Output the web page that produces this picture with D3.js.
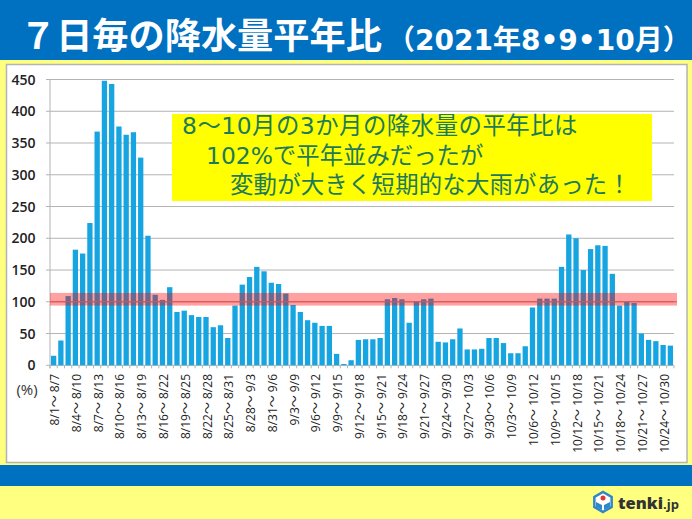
<!DOCTYPE html>
<html><head><meta charset="utf-8">
<script src="https://cdn.jsdelivr.net/npm/d3@7"></script>
<style>html,body{margin:0;padding:0;background:#ffff80}svg{display:block}</style></head>
<body><svg id="c" width="692" height="519"></svg>
<script>
const titleMain = "\uFF17日毎の降水量平年比";
const titleSub = "\uFF082021年8•9•10月\uFF09";
const startLabels = ["8/1","8/4","8/7","8/10","8/13","8/16","8/19","8/22","8/25","8/28","8/31","9/3","9/6","9/9","9/12","9/15","9/18","9/21","9/24","9/27","9/30","10/3","10/6","10/9","10/12","10/15","10/18","10/21","10/24"];
const endLabels = ["8/7","8/10","8/13","8/16","8/19","8/22","8/25","8/28","8/31","9/3","9/6","9/9","9/12","9/15","9/18","9/21","9/24","9/27","9/30","10/3","10/6","10/9","10/12","10/15","10/18","10/21","10/24","10/27","10/30"];
const values = [15,39,109,182,176,224,368,448,443,376,363,367,327,204,111,103,123,84,86,79,76,76,60,63,43,94,127,139,155,148,130,128,113,95,84,71,67,62,62,18,2,8,40,41,41,43,104,106,104,67,101,104,105,37,36,41,58,25,25,26,43,43,35,19,19,30,91,105,105,105,155,206,200,150,183,189,188,144,94,100,98,50,40,38,32,31];
const yTicks = [0,50,100,150,200,250,300,350,400,450];
const bandRange = [94,114];
const normal = 100;
const noteLines = ["8\u301C10月の3か月の降水量の平年比は","102%で平年並みだったが","変動が大きく短期的な大雨があった\uFF01"];
const noteIndent = [182,206,230];
const noteSpacing = [0.5,0,0.2];

const svg = d3.select("#c");
const sans = "'Noto Sans CJK JP','Noto Sans',sans-serif";
const wide = "'DejaVu Sans','Noto Sans CJK JP',sans-serif";
const latin = "'Open Sans','Noto Sans CJK JP',sans-serif";
const x = d3.scaleBand().domain(d3.range(values.length)).range([50,674]).paddingInner(0.27).paddingOuter(0.135);
const y = d3.scaleLinear().domain([0,450]).range([365.3,79.5]);

svg.append("rect").attr("width",692).attr("height",519).attr("fill","#ffff80");
svg.append("rect").attr("width",692).attr("height",60).attr("fill","#0070c0");
svg.append("rect").attr("y",465).attr("width",692).attr("height",21).attr("fill","#0070c0");
svg.append("rect").attr("x",6.5).attr("y",64.5).attr("width",680.5).attr("height",398).attr("fill","#fff").attr("stroke","#b4b4b4").attr("stroke-width",1.5);

svg.append("text").attr("x",20).attr("y",49).attr("fill","#fff").attr("font-family",sans).attr("font-weight",700).attr("font-size",36.2).text(titleMain);
svg.append("text").attr("x",387).attr("y",50).attr("fill","#fff").attr("font-family",wide).attr("font-weight",700).attr("font-size",28).text(titleSub);

const grid = svg.append("g");
grid.selectAll("line").data(yTicks).join("line")
 .attr("x1",46).attr("x2",674).attr("y1",d=>y(d)).attr("y2",d=>y(d))
 .attr("stroke","#b3b3b3").attr("stroke-width",1);
grid.append("line").attr("x1",50).attr("x2",50).attr("y1",y(450)).attr("y2",y(0)+3).attr("stroke","#b3b3b3");
grid.selectAll("path.t").data(d3.range(values.length+1)).join("line")
 .attr("x1",i=>50+i*x.step()).attr("x2",i=>50+i*x.step()).attr("y1",y(0)).attr("y2",y(0)+3).attr("stroke","#b3b3b3");

svg.append("g").selectAll("rect").data(values).join("rect")
 .attr("x",(d,i)=>x(i)).attr("width",x.bandwidth())
 .attr("y",d=>y(d)).attr("height",d=>y(0)-y(d)).attr("fill","#16a5e1");

svg.append("rect").attr("x",50).attr("width",627).attr("y",y(bandRange[1])).attr("height",y(bandRange[0])-y(bandRange[1]))
 .attr("fill","#ff0000").attr("opacity",0.37);
svg.append("line").attr("x1",50).attr("x2",677).attr("y1",y(normal)).attr("y2",y(normal)).attr("stroke","#e05050").attr("stroke-width",1);

svg.append("g").selectAll("text").data(yTicks).join("text")
 .attr("x",35.5).attr("text-anchor","end").attr("y",d=>y(d)+5).attr("font-family",latin).attr("font-weight",600)
 .attr("font-size",14).attr("fill","#222").text(d=>d);
svg.append("text").attr("x",27).attr("y",395).attr("text-anchor","middle").attr("font-family",latin).attr("font-size",15).attr("fill","#333").text("(%)");

svg.append("g").selectAll("text").data(startLabels).join("text")
 .attr("transform",(d,i)=>`translate(${x(i*3)+x.bandwidth()/2+5.5},374) rotate(-90)`)
 .attr("text-anchor","end").attr("font-family",latin).attr("font-size",12).attr("fill","#222")
 .text((d,i)=>`${d}\u301C ${endLabels[i]}`);

svg.append("rect").attr("x",172).attr("y",114).attr("width",480).attr("height",87).attr("fill","#ffff00");
svg.append("g").selectAll("text").data(noteLines).join("text")
 .attr("x",(d,i)=>noteIndent[i]).attr("y",(d,i)=>134+i*29.5).attr("letter-spacing",(d,i)=>noteSpacing[i])
 .attr("font-family",wide).attr("font-size",23.4).attr("fill","#1d7a5a").text(d=>d);

const logo = svg.append("g").attr("transform","translate(603,502)");
logo.append("path").attr("d",d3.line()(d3.range(6).map(k=>[10*Math.sin(k*Math.PI/3),10*Math.cos(k*Math.PI/3)]))+"Z").attr("fill","#fff").attr("stroke","#2f86c8").attr("stroke-width",2.5);
logo.append("circle").attr("cy",-4).attr("r",2.5).attr("fill","#e0392b");
logo.append("path").attr("d","M-7,0L-1,3L-1,8L-7,5Z M7,0L1,3L1,8L7,5Z").attr("fill","#2f86c8");
const brand = svg.append("text").attr("x",618).attr("y",509).attr("font-family",latin).attr("fill","#333");
brand.append("tspan").attr("font-weight",800).attr("font-size",16.5).text("tenki");
brand.append("tspan").attr("font-weight",700).attr("font-size",13).text(".jp");
</script></body></html>
